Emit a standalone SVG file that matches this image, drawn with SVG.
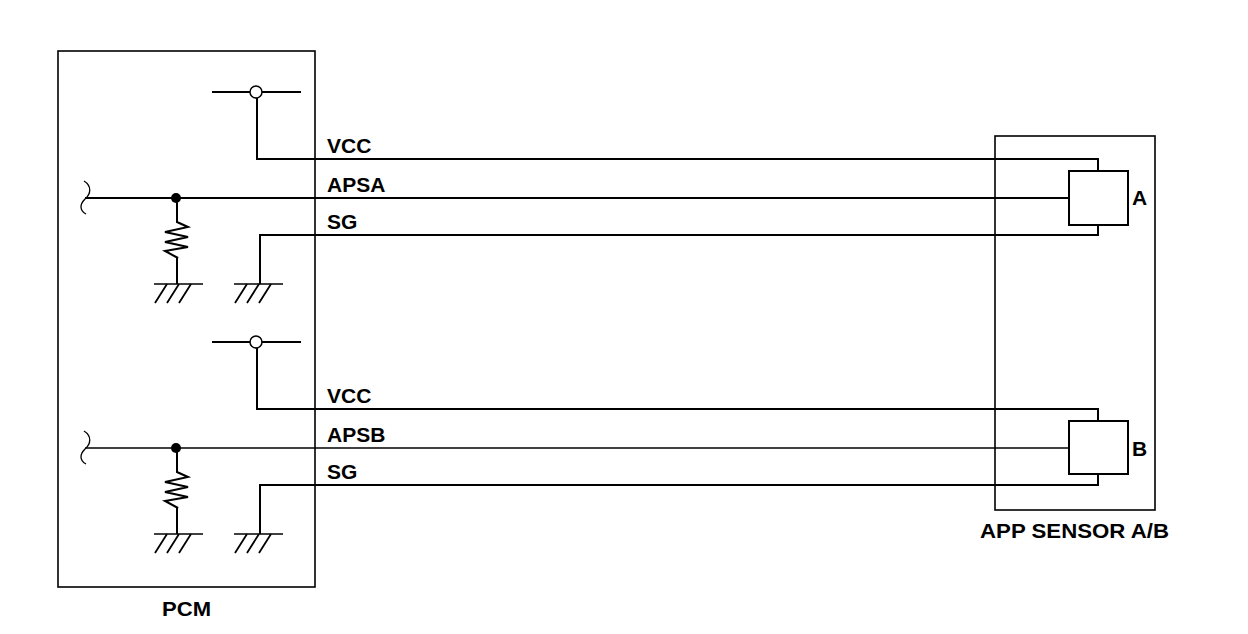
<svg xmlns="http://www.w3.org/2000/svg" width="1248" height="634" viewBox="0 0 1248 634">
<style>
.w{fill:none;stroke:#000;stroke-width:2}
.t{fill:none;stroke:#000;stroke-width:1.3}
.h{fill:none;stroke:#000;stroke-width:1.8}
.b{fill:none;stroke:#000;stroke-width:1.6}
.lbl{font-family:"Liberation Sans",Arial,sans-serif;font-weight:bold;font-size:21px;fill:#000}
</style>
<defs>
<g id="gnd">
<line x1="-24" y1="0" x2="25" y2="0" class="t"/>
<path d="M-11 0 L-23 19 M1 0 L-11 19 M13 0 L1 19" class="h"/>
</g>
<path id="res" d="M0 0 L0 24 L11 29 L-12 34 L11 39 L-12 44 L11 49 L-12 53 L1 60 L0 60 L0 86" class="w"/>
<path id="wave" d="M0 -17 C8 -12 7 -4 1 1 C-4 6 -5 12 2 16" class="t"/>
</defs>
<rect width="1248" height="634" fill="#fff"/>

<g id="pcm">
<rect x="58" y="51" width="257" height="536" class="b"/>
<text x="162" y="616" class="lbl" textLength="49" lengthAdjust="spacingAndGlyphs">PCM</text>
</g>

<g id="sensor">
<rect x="995" y="136" width="160" height="374" class="b"/>
<rect x="1069" y="171" width="59" height="54" class="w"/>
<rect x="1069" y="421" width="59" height="53" class="w"/>
<text x="1132" y="205" class="lbl">A</text>
<text x="1132" y="456" class="lbl">B</text>
<text x="980" y="538" class="lbl" textLength="189" lengthAdjust="spacingAndGlyphs">APP SENSOR A/B</text>
</g>

<g id="pcm-circuit-a">
<line x1="212" y1="92" x2="301" y2="92" class="w"/>
<circle cx="256" cy="92" r="6" fill="#fff" stroke="#000" stroke-width="1.5"/>
<use href="#wave" x="84" y="198"/>
<circle cx="176" cy="198" r="5" fill="#000"/>
<use href="#res" x="177" y="198"/>
<use href="#gnd" x="178" y="284"/>
<use href="#gnd" x="258" y="284"/>
</g>

<g id="pcm-circuit-b">
<line x1="212" y1="342" x2="301" y2="342" class="w"/>
<circle cx="256" cy="342" r="6" fill="#fff" stroke="#000" stroke-width="1.5"/>
<use href="#wave" x="84" y="448"/>
<circle cx="176" cy="448" r="5" fill="#000"/>
<use href="#res" x="177" y="448"/>
<use href="#gnd" x="178" y="534"/>
<use href="#gnd" x="258" y="534"/>
</g>

<g id="connectors">
<path d="M257 98 L257 159 L1098 159 L1098 171" class="w"/>
<path d="M85 198 L1069 198" class="w"/>
<path d="M260 284 L260 235 L1098 235 L1098 225" class="w"/>
<path d="M257 348 L257 409 L1098 409 L1098 421" class="w"/>
<path d="M85 448 L1069 448" class="t"/>
<path d="M260 534 L260 485 L1098 485 L1098 474" class="w"/>
</g>

<g id="labels">
<text x="327" y="153" class="lbl">VCC</text>
<text x="327" y="192" class="lbl">APSA</text>
<text x="327" y="229" class="lbl">SG</text>
<text x="327" y="403" class="lbl">VCC</text>
<text x="327" y="442" class="lbl">APSB</text>
<text x="327" y="479" class="lbl">SG</text>
</g>
</svg>
